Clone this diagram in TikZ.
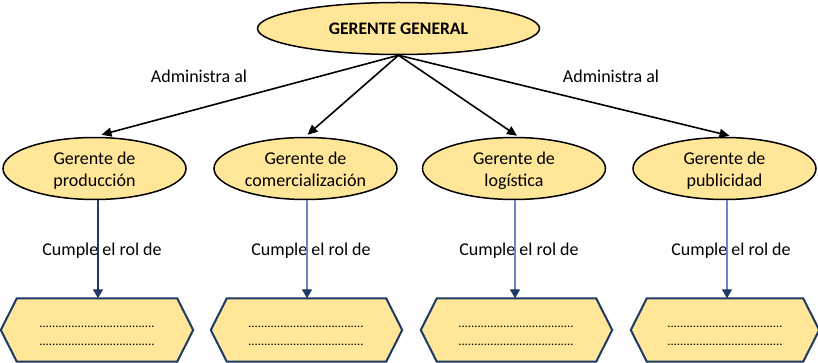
\documentclass[tikz,border=0pt]{standalone}
\usepackage{fontspec}
\setmainfont{Carlito}
\usetikzlibrary{shapes.geometric,arrows.meta}
\definecolor{gold}{HTML}{FFE699}
\definecolor{navy}{HTML}{1F3864}
\definecolor{rolblue}{HTML}{6A86C6}
\pgfdeclarelayer{bg}
\pgfsetlayers{bg,main}
\newcommand{\dotrow}{....................................}
\newcommand{\topstrut}{\rule{0pt}{17.5pt}}
\newcommand{\botstrut}{\rule[-4pt]{0pt}{4pt}}
\begin{document}
\begin{tikzpicture}[x=1pt,y=-1pt,
  ggnode/.style={ellipse,draw=black,line width=1.5pt,fill=gold,minimum width=282pt,minimum height=52pt,inner sep=0pt,font=\fontsize{17.6}{20}\selectfont\bfseries},
  mgr/.style={ellipse,draw=black,line width=1.5pt,fill=gold,minimum width=183pt,minimum height=62pt,inner sep=0pt,align=center,font=\fontsize{18}{22}\selectfont},
  rolebox/.style={minimum height=63pt,inner sep=0pt},
  hex/.style={draw=navy,line width=2pt,fill=gold,line join=miter},
  dotsline/.style={anchor=base,inner sep=0pt,font=\fontsize{12.7}{15}\selectfont},
  admin/.style={-{Triangle[length=10pt,width=9pt]},line width=1.6pt,draw=black},
  rolarrow/.style={-{Triangle[length=9pt,width=10pt,color=navy]},line width=1.3pt},
  lbl/.style={font=\fontsize{18}{21}\selectfont,inner sep=0pt}
]
\useasboundingbox (0,0) rectangle (818,363);

% top node
\node[ggnode] (gg) at (398.5,28.5) {GERENTE GENERAL};

% managers
\node[mgr] (e1) at (94.5,168.5) {\topstrut Gerente de\\producción\botstrut};
\node[mgr] (e2) at (305.5,168.5) {\topstrut Gerente de\\comercialización\botstrut};
\node[mgr] (e3) at (514,168.5) {\topstrut Gerente de\\logística\botstrut};
\node[mgr] (e4) at (724.5,168.5) {\topstrut Gerente de\\publicidad\botstrut};

% role boxes
\node[rolebox,minimum width=192pt] (b1) at (97,330) {};
\node[rolebox,minimum width=191pt] (b2) at (306.5,330) {};
\node[rolebox,minimum width=191pt] (b3) at (516.5,330) {};
\node[rolebox,minimum width=188pt] (b4) at (725,330) {};

\begin{pgfonlayer}{bg}
\foreach \b in {b1,b2,b3,b4}{
  \filldraw[hex] (\b.west) -- ([xshift=16pt]\b.north west) -- ([xshift=-16pt]\b.north east) -- (\b.east) -- ([xshift=-16pt]\b.south east) -- ([xshift=16pt]\b.south west) -- cycle;
}
\end{pgfonlayer}

% dotted text lines
\foreach \b/\x in {b1/97,b2/306,b3/516,b4/725}{
  \node[dotsline] (\b top) at (\x,327) {\dotrow};
  \node[dotsline] (\b bot) at (\x,345) {\dotrow};
}

% labels
\node[lbl] (la1) at (199,76) {Administra al};
\node[lbl] (la2) at (611,76) {Administra al};
\node[lbl] (lr1) at (102,250.5) {Cumple el rol de};
\node[lbl] (lr2) at (311,250.5) {Cumple el rol de};
\node[lbl] (lr3) at (519,250.5) {Cumple el rol de};
\node[lbl] (lr4) at (731,250.5) {Cumple el rol de};

% top arrows
\draw[admin] (gg.south) -- ([xshift=7pt,yshift=2pt]e1.north);
\draw[admin] (gg.south) -- ([xshift=2pt,yshift=2pt]e2.north);
\draw[admin] (gg.south) -- ([xshift=3pt,yshift=1pt]e3.north);
\draw[admin] (gg.south) -- ([xshift=5pt,yshift=1pt]e4.north);

% role arrows
\draw[rolarrow,draw=navy] ([xshift=3.5pt]e1.south) -- ([xshift=3.5pt]e1.south |- b1.north);
\draw[rolarrow,draw=rolblue] ([xshift=1.5pt]e2.south) -- ([xshift=1.5pt]e2.south |- b2.north);
\draw[rolarrow,draw=rolblue] ([xshift=1pt]e3.south) -- ([xshift=1pt]e3.south |- b3.north);
\draw[rolarrow,draw=rolblue] ([xshift=2.5pt]e4.south) -- ([xshift=2.5pt]e4.south |- b4.north);
\end{tikzpicture}
\end{document}
